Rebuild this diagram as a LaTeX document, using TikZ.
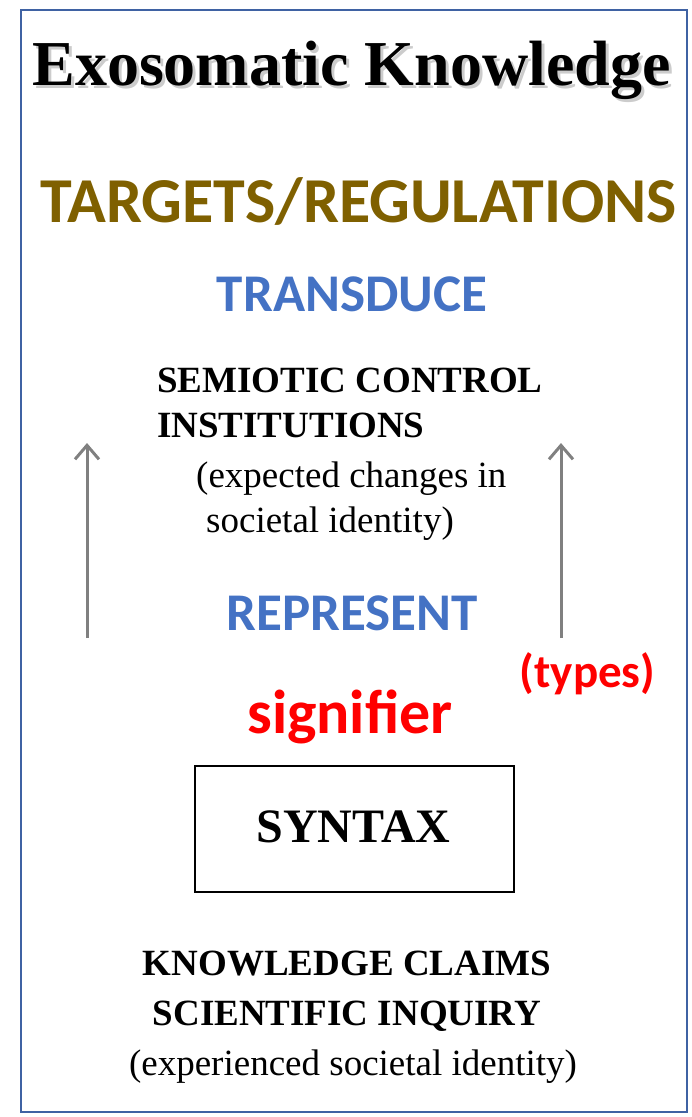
\documentclass[tikz,border=0pt]{standalone}
\usepackage{fontspec}
\setmainfont{Liberation Serif}
\newfontfamily\calibri{Carlito}
\usetikzlibrary{arrows.meta,positioning}
\definecolor{FrameBlue}{HTML}{3F62A3}
\definecolor{Olive}{HTML}{7F6000}
\definecolor{SkyBlue}{HTML}{4472C4}
\definecolor{SignRed}{HTML}{FF0000}
\definecolor{ArrowGray}{HTML}{808080}

\begin{document}
\begin{tikzpicture}[x=1pt, y=-1pt,
      label/.style={inner sep=0pt, anchor=base},
      serifbold/.style={label, font=\bfseries\fontsize{37}{45}\selectfont},
      serifplain/.style={label, font=\fontsize{37}{45}\selectfont},
      keyword/.style={label, font=\calibri\bfseries\fontsize{53}{60}\selectfont, text=SkyBlue},
      syntaxbox/.style={draw=black, line width=1.6pt, minimum width=319pt, minimum height=126pt},
      uparrow/.style={-{Straight Barb[length=14pt, width=24pt]}, draw=ArrowGray, line width=3pt},
      frame/.style={draw=FrameBlue, line width=2pt}
    ]
      \useasboundingbox (0,0) rectangle (692,1117);
      \draw[frame] (21,10) rectangle (687,1112);
      % title with a soft drop shadow
      \node[label, font=\bfseries\fontsize{64}{70}\selectfont, text=black!40, opacity=0.5] at (354.5,88) {Exosomatic Knowledge};
      \node[label, font=\bfseries\fontsize{64}{70}\selectfont] (title) at (351.5,85) {Exosomatic Knowledge};
      \node[label, font=\calibri\bfseries\fontsize{64}{70}\selectfont, text=Olive] (targets) at (359,222) {TARGETS/REGULATIONS};
      \node[keyword] (transduce) at (352,311) {TRANSDUCE};
      % multi-line nodes sit on the baseline of their last line
      \node[serifbold, anchor=base west, align=left] (semiotic) at (157,437) {SEMIOTIC CONTROL\\INSTITUTIONS};
      \node[serifplain, anchor=base west, align=left] (expected) at (196,532) {(expected changes in\\\hspace*{10pt}societal identity)};
      \node[keyword] (represent) at (352,630) {REPRESENT};
      \node[label, font=\calibri\bfseries\fontsize{47}{52}\selectfont, text=SignRed] (types) at (587.5,687) {(types)};
      \node[label, font=\calibri\bfseries\fontsize{62}{68}\selectfont, text=SignRed] (signifier) at (350,733) {signifier};
      \node[syntaxbox] (syntax) at (354.5,829) {};
      \node[label, font=\bfseries\fontsize{48}{52}\selectfont] (syntaxtext) at (353.5,842) {SYNTAX};
      \node[serifbold, font=\bfseries\fontsize{37}{50}\selectfont, align=center] (claims) at (347,1025) {KNOWLEDGE CLAIMS\\SCIENTIFIC INQUIRY};
      \node[serifplain] (experienced) at (353,1075) {(experienced societal identity)};
      % the two upward arrows
      \coordinate (leftlow) at (87,638);
      \coordinate (lefttop) at (87,443);
      \coordinate (rightlow) at (561,638);
      \coordinate (righttop) at (561,443);
      \draw[uparrow] (leftlow) -- (lefttop);
      \draw[uparrow] (rightlow) -- (righttop);
    \end{tikzpicture}
\end{document}
